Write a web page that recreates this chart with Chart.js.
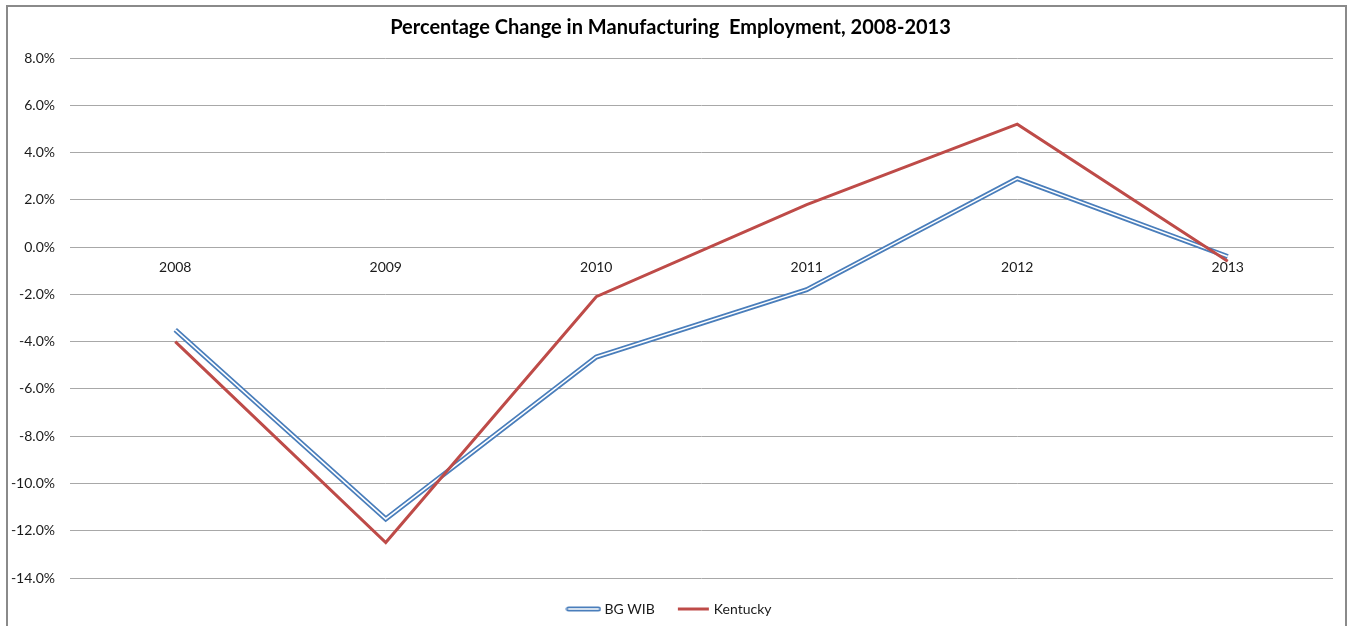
<!DOCTYPE html>
<html>
<head>
<meta charset="utf-8">
<script src="https://cdn.jsdelivr.net/npm/chart.js@4.4.1/dist/chart.umd.min.js"></script>
<style>
  html, body { margin: 0; padding: 0; background: #ffffff; }
  #wrap { width: 1348px; height: 626px; position: relative; }
</style>
</head>
<body>
<div id="wrap"><canvas id="chart" width="1348" height="626"></canvas></div>
<script>
// Year labels along the zero line
const years = ['2008', '2009', '2010', '2011', '2012', '2013'];

// Year-over-year percentage change in manufacturing employment
const bgWib = [-3.5, -11.5, -4.65, -1.8, 2.9, -0.4];
const kentucky = [-4.0, -12.5, -2.1, 1.8, 5.2, -0.6];

// Value axis range and step (percent)
const yMin = -14;
const yMax = 8;
const yStep = 2;

const chartTitle = 'Percentage Change in Manufacturing  Employment, 2008-2013';
const seriesNames = ['BG WIB', 'Kentucky'];

const BLUE = '#4A7EBB';
const RED = '#BE4B48';
const GRID = '#A8A8A8';
const TEXT = '#1a1a1a';
const FONT = 'Lato, "Open Sans", sans-serif';

// Small legend swatches: a double (outlined) line and a plain line
function makeSwatch(double) {
  const c = document.createElement('canvas');
  c.width = 36; c.height = 8;
  const g = c.getContext('2d');
  g.lineCap = 'round';
  if (double) {
    g.strokeStyle = BLUE; g.lineWidth = 5;
    g.beginPath(); g.moveTo(3, 4); g.lineTo(33, 4); g.stroke();
    g.strokeStyle = '#ffffff'; g.lineWidth = 1.5;
    g.beginPath(); g.moveTo(3, 4); g.lineTo(33, 4); g.stroke();
  } else {
    g.strokeStyle = RED; g.lineWidth = 3; g.lineCap = 'butt';
    g.beginPath(); g.moveTo(3, 4); g.lineTo(34, 4); g.stroke();
  }
  return c;
}
const swatchBlue = makeSwatch(true);
const swatchRed = makeSwatch(false);

// White page with a grey frame around the chart
const framePlugin = {
  id: 'frame',
  beforeDraw(chart) {
    const ctx = chart.ctx;
    ctx.save();
    ctx.fillStyle = '#ffffff';
    ctx.fillRect(0, 0, chart.width, chart.height);
    ctx.strokeStyle = '#8a8a8a';
    ctx.lineWidth = 2;
    ctx.beginPath();
    ctx.moveTo(7, chart.height + 5);
    ctx.lineTo(7, 6);
    ctx.lineTo(chart.width - 2, 6);
    ctx.lineTo(chart.width - 2, chart.height + 5);
    ctx.stroke();
    ctx.restore();
  }
};

new Chart(document.getElementById('chart'), {
  type: 'line',
  data: {
    labels: years,
    datasets: [
      {
        label: seriesNames[1],
        data: kentucky,
        borderColor: RED,
        borderWidth: 3,
        pointRadius: 0,
        tension: 0,
        fill: false
      },
      {
        label: seriesNames[0] + ' inner',
        data: bgWib,
        borderColor: '#ffffff',
        borderWidth: 1.5,
        pointRadius: 0,
        tension: 0,
        fill: false
      },
      {
        label: seriesNames[0],
        data: bgWib,
        borderColor: BLUE,
        borderWidth: 5,
        borderJoinStyle: 'miter',
        pointRadius: 0,
        tension: 0,
        fill: false
      }
    ]
  },
  options: {
    responsive: false,
    animation: false,
    devicePixelRatio: 1,
    layout: { padding: { left: 8, right: 15, top: 16, bottom: 0 } },
    plugins: {
      title: {
        display: true,
        text: chartTitle,
        color: '#000000',
        font: { family: FONT, size: 20, weight: 'bold' },
        padding: { top: 0, bottom: 18 }
      },
      legend: {
        display: true,
        position: 'bottom',
        labels: {
          usePointStyle: true,
          pointStyleWidth: 28,
          padding: 24,
          color: TEXT,
          font: { family: FONT, size: 14 },
          generateLabels(chart) {
            return [
              { text: seriesNames[0], pointStyle: swatchBlue, datasetIndex: 2, fontColor: TEXT, lineWidth: 0, strokeStyle: 'rgba(0,0,0,0)', fillStyle: 'rgba(0,0,0,0)' },
              { text: seriesNames[1], pointStyle: swatchRed, datasetIndex: 0, fontColor: TEXT, lineWidth: 0, strokeStyle: 'rgba(0,0,0,0)', fillStyle: 'rgba(0,0,0,0)' }
            ];
          }
        }
      },
      tooltip: { enabled: false }
    },
    scales: {
      x: {
        type: 'category',
        position: { y: 0 },
        offset: true,
        grid: { display: false, drawTicks: false },
        border: { display: true, color: GRID, width: 1 },
        ticks: {
          color: TEXT,
          font: { family: FONT, size: 14 },
          padding: 12,
          maxRotation: 0
        }
      },
      y: {
        min: yMin,
        max: yMax,
        afterFit(scale) { scale.width = 62; },
        grid: { color: GRID, lineWidth: 1, drawTicks: false },
        border: { display: false },
        ticks: {
          stepSize: yStep,
          color: TEXT,
          padding: 15,
          font: { family: FONT, size: 14 },
          callback: (v) => Number(v).toFixed(1) + '%'
        }
      }
    }
  },
  plugins: [framePlugin]
});
</script>
</body>
</html>
